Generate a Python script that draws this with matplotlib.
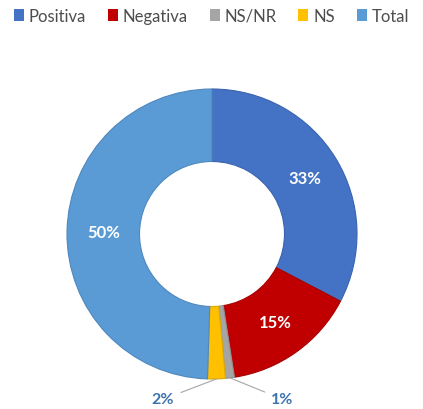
import numpy as np
import matplotlib
matplotlib.use("Agg")
import matplotlib.pyplot as plt
from matplotlib.patches import Patch

plt.rcParams['font.family'] = ['Lato', 'DejaVu Sans']

categories = ['Positiva', 'Negativa', 'NS/NR', 'NS', 'Total']
values = [33, 15, 1, 2, 50]
colors = ['#4472C4', '#C00000', '#A5A5A5', '#FFC000', '#5B9BD5']
edges = ['#3B64AE', '#A80000', '#919191', '#E0A800', '#4F88BD']

fig = plt.figure(figsize=(4.23, 4.10), dpi=100)
ax = fig.add_axes([67 / 423, 30 / 410, 290 / 423, 290 / 410])

wedges, _ = ax.pie(values, colors=colors, startangle=90, counterclock=False,
                   radius=1.0, wedgeprops=dict(width=0.5, linewidth=0.8))
for w, ec in zip(wedges, edges):
    w.set_edgecolor(ec)

total = sum(values)
angles = []
start = 90.0
for v in values:
    span = 360.0 * v / total
    angles.append(start - span / 2)
    start -= span

# big slices: label inside the ring
for i, v in enumerate(values):
    if v < 5:
        continue
    a = np.deg2rad(angles[i])
    ax.text(0.75 * np.cos(a), 0.75 * np.sin(a), f"{v}%", ha='center', va='center',
            color='white', fontsize=12, fontweight='bold')

# small slices: outside labels with leader lines
lab_col = '#3F73B0'
line_col = '#A6A6A6'
outside = [(3, -0.26, 'right'), (2, 0.41, 'left')]
for i, tx, ha in outside:
    a = np.deg2rad(angles[i])
    ax.annotate(f"{values[i]}%", xy=(np.cos(a), np.sin(a)), xytext=(tx, -1.14),
                ha=ha, va='center', color=lab_col, fontsize=11.5, fontweight='bold',
                arrowprops=dict(arrowstyle='-', color=line_col, lw=0.8,
                                shrinkA=3, shrinkB=0))

ax.set_xlim(-1, 1)
ax.set_ylim(-1, 1)
ax.set_aspect('equal')
ax.axis('off')

handles = [Patch(facecolor=c, edgecolor='none') for c in colors]
fig.legend(handles, categories, loc='upper center', bbox_to_anchor=(0.5, 1.015),
           ncol=5, frameon=False, fontsize=12, handlelength=0.6, handleheight=0.7,
           handletextpad=0.3, columnspacing=1.3, labelcolor='#4D4D4D')

fig.savefig('out.png', dpi=100)
